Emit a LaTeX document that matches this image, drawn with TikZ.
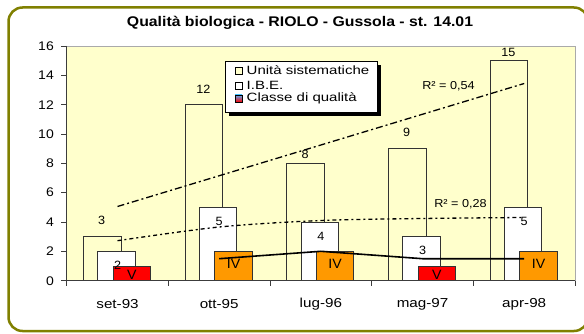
\documentclass[tikz,border=0pt]{standalone}
\usepackage{fontspec}
\setmainfont{Liberation Sans}
\usepackage{graphicx}
\definecolor{olivef}{RGB}{128,128,0}
\definecolor{plotbg}{RGB}{255,255,204}
\definecolor{classeV}{RGB}{255,0,0}
\definecolor{classeIV}{RGB}{255,153,0}
\definecolor{axisgray}{RGB}{60,60,60}
\definecolor{bordergray}{RGB}{170,170,170}
\newcommand{\hs}[2]{\scalebox{#1}[1]{#2}}
\tikzset{
  barbox/.style={draw=black!80, line width=1pt},
  trendline/.style={black, line width=1.3pt, dash pattern=on 7pt off 3pt on 2pt off 3pt},
  trendlow/.style={black, line width=1.3pt, dash pattern=on 4pt off 3pt on 2pt off 3pt},
  ticklab/.style={inner sep=0pt, font=\fontsize{12.5}{14}\selectfont},
  vallab/.style={inner sep=0pt, font=\fontsize{12}{13}\selectfont},
  clslab/.style={inner sep=0pt, font=\fontsize{13.5}{15}\selectfont},
  leglab/.style={inner sep=0pt, anchor=base west, font=\fontsize{12}{13}\selectfont},
  legmark/.style={draw=black, line width=0.6pt},
}
\begin{document}
\begin{tikzpicture}[x=1pt,y=-1pt]
\useasboundingbox (0,0) rectangle (584,334);
\fill[white] (0,0) rectangle (584,334);
% outer frame
\draw[olivef, line width=2.5pt, rounded corners=14pt] (8.5,7.5) rectangle (588,331);
% title
\node[inner sep=0pt, font=\bfseries\fontsize{14}{15}\selectfont] (title) at (300,22.5)
  {\hs{1.13}{Qualità biologica - RIOLO - Gussola - st. 14.01}};
% plot area
\fill[plotbg] (66.7,46) rectangle (575,280.7);
\draw[bordergray, line width=0.8pt] (66.7,46) -- (575,46) -- (575,280.7);
% y axis ticks and labels
\foreach \v in {0,2,...,16}{
  \pgfmathsetmacro{\yy}{280.7-14.67*\v}
  \draw[axisgray, line width=0.9pt] (61,\yy) -- (66.7,\yy);
  \node[ticklab, anchor=east] (yl\v) at (54,\yy) {\hs{1.12}{\v}};
}
% x ticks
\foreach \k in {0,...,5}{
  \pgfmathsetmacro{\xx}{66.7+101.67*\k}
  \draw[axisgray, line width=0.9pt] (\xx,280.7) -- (\xx,286);
}
% bars
\foreach \i/\u/\b/\k/\kc/\kl/\uy/\nm in {1/3/2/1/classeV/V/220/set-93, 2/12/5/2/classeIV/IV/89/ott-95, 3/8/4/2/classeIV/IV/154/lug-96, 4/9/3/1/classeV/V/132.7/mag-97, 5/15/5/2/classeIV/IV/52.7/apr-98}{
  \pgfmathsetmacro{\c}{66.7+101.67*(\i-0.5)}
  \pgfmathsetmacro{\yu}{280.7-14.67*\u}
  \pgfmathsetmacro{\yb}{280.7-14.67*\b}
  \pgfmathsetmacro{\yk}{280.7-14.67*\k}
  \draw[barbox, fill=plotbg] (\c-34,280.7) rectangle (\c+3.5,\yu);
  \draw[barbox, fill=white] (\c-19.8,280.7) rectangle (\c+17.7,\yb);
  \draw[barbox, fill=\kc] (\c-4.5,280.7) rectangle (\c+33,\yk);
  \node[vallab] (u\i) at (\c-15.8,\uy) {\hs{1.05}{\u}};
  \node[vallab] (b\i) at (\c,\yb+14) {\hs{1.05}{\b}};
  \pgfmathsetmacro{\ky}{\k==1 ? 275 : 264}
  \node[clslab] (k\i) at (\c+14.3,\ky) {\hs{1.05}{\kl}};
  \node[ticklab, font=\fontsize{13}{14}\selectfont] (x\i) at (\c,304) {\hs{1.17}{\nm}};
}
% axes
\draw[axisgray, line width=0.9pt] (66.7,46) -- (66.7,280.7) -- (575,280.7);
% trend lines
\coordinate (ta) at (117.5,206.5);
\coordinate (tb) at (524.2,83.5);
\draw[trendline] (ta) -- (tb);
\coordinate (l1) at (117.5,240.7);
\coordinate (l2) at (219.2,227);
\coordinate (l3) at (320.8,220.5);
\coordinate (l4) at (422.5,218.5);
\coordinate (l5) at (524.2,217.5);
\draw[trendlow] plot[smooth] coordinates {(l1) (l2) (l3) (l4) (l5)};
% quality line
\coordinate (q2) at (219.2,258.7);
\coordinate (q3) at (320.8,251.3);
\coordinate (q4) at (422.5,258.7);
\coordinate (q5) at (524.2,258.7);
\draw[black, line width=1.6pt] (q2) -- (q3) -- (q4) -- (q5);
\node[inner sep=0pt, font=\fontsize{11.5}{13}\selectfont] (r1) at (448.5,86) {\hs{1.1}{R² = 0,54}};
\node[inner sep=0pt, font=\fontsize{11.5}{13}\selectfont] (r2) at (460.5,204.3) {\hs{1.1}{R² = 0,28}};
% legend
\fill[black] (229,65) rectangle (381,116);
\draw[black, line width=0.8pt, fill=white] (225,61) rectangle (377,112);
\draw[legmark, fill=plotbg] (235,67) rectangle (242,74);
\draw[legmark, fill=white] (235,82.5) rectangle (242,89.5);
\shade[top color={rgb,255:red,90;green,170;blue,240}, bottom color=red] (235,95) rectangle (242,102);
\draw[legmark] (235,95) rectangle (242,102);
\node[leglab] (lg1) at (246.5,74.5) {\hs{1.25}{Unità sistematiche}};
\node[leglab] (lg2) at (246.5,89.3) {\hs{1.25}{I.B.E.}};
\node[leglab] (lg3) at (246.5,102) {\hs{1.25}{Classe di qualità}};
\end{tikzpicture}
\end{document}
